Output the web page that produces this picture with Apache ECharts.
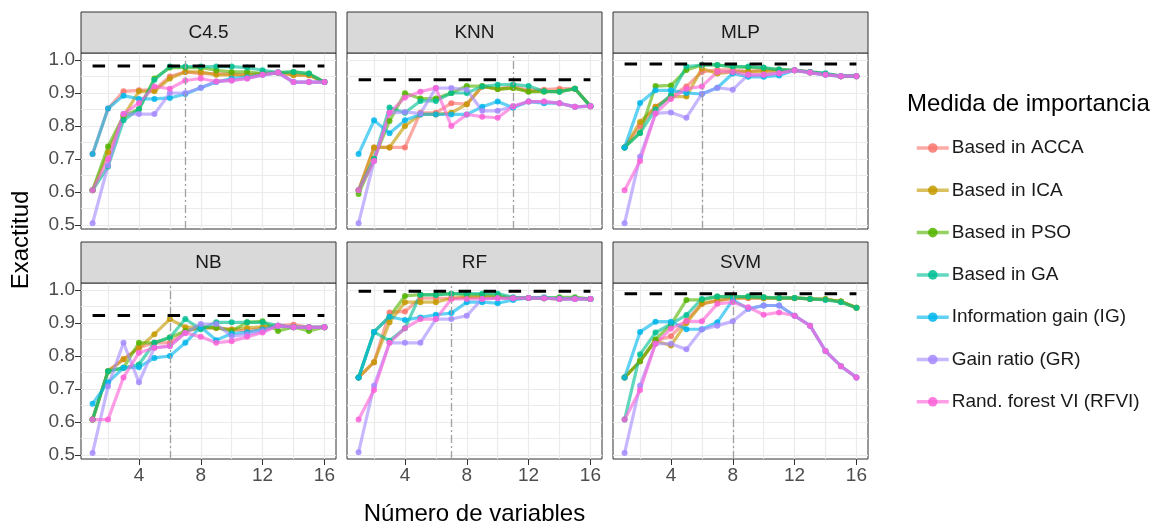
<!DOCTYPE html>
<html><head><meta charset="utf-8">
<script src="https://cdn.jsdelivr.net/npm/echarts@6/dist/echarts.min.js"></script>
<style>html,body{margin:0;padding:0;background:#fff}#c{width:1159px;height:527px}</style>
</head><body><div id="c"></div>
<script>
const panelNames = ['C4.5', 'KNN', 'MLP', 'NB', 'RF', 'SVM'];
const methods = ['Based in ACCA', 'Based in ICA', 'Based in PSO', 'Based in GA', 'Information gain (IG)', 'Gain ratio (GR)', 'Rand. forest VI (RFVI)'];
const colors = ['#F8766D', '#C49A00', '#53B400', '#00C094', '#00B6EB', '#A58AFF', '#FB61D7'];
const xValues = [1, 2, 3, 4, 5, 6, 7, 8, 9, 10, 11, 12, 13, 14, 15, 16];
const xTicks = [4, 8, 12, 16];
const xGrid = [2, 4, 6, 8, 10, 12, 14, 16];
const yTicks = [0.5, 0.6, 0.7, 0.8, 0.9, 1.0];
const yGrid = [0.5, 0.55, 0.6, 0.65, 0.7, 0.75, 0.8, 0.85, 0.9, 0.95, 1.0];
const refAccuracy = [0.982, 0.94, 0.988, 0.923, 0.996, 0.989];
const optimalVars = [7, 11, 6, 6, 7, 8];

// rows follow methods order: ACCA, ICA, PSO, GA, IG, GR, RFVI
const C45 = [
  [0.715, 0.853, 0.905, 0.908, 0.91, 0.95, 0.964, 0.959, 0.959, 0.957, 0.955, 0.959, 0.962, 0.955, 0.954, 0.933],
  [0.605, 0.72, 0.83, 0.905, 0.905, 0.944, 0.964, 0.964, 0.955, 0.955, 0.954, 0.959, 0.962, 0.954, 0.954, 0.933],
  [0.605, 0.738, 0.83, 0.851, 0.944, 0.977, 0.977, 0.977, 0.969, 0.964, 0.964, 0.959, 0.962, 0.964, 0.959, 0.933],
  [0.605, 0.677, 0.817, 0.851, 0.94, 0.98, 0.98, 0.98, 0.98, 0.98, 0.977, 0.969, 0.962, 0.964, 0.959, 0.933],
  [0.715, 0.853, 0.892, 0.882, 0.882, 0.885, 0.897, 0.916, 0.933, 0.944, 0.948, 0.955, 0.962, 0.933, 0.933, 0.933],
  [0.505, 0.68, 0.836, 0.836, 0.836, 0.9, 0.9, 0.916, 0.935, 0.938, 0.944, 0.955, 0.962, 0.933, 0.933, 0.933],
  [0.605, 0.70, 0.836, 0.87, 0.92, 0.913, 0.938, 0.944, 0.935, 0.938, 0.944, 0.955, 0.962, 0.933, 0.933, 0.933]
];
const KNN = [
  [0.605, 0.735, 0.735, 0.735, 0.84, 0.84, 0.869, 0.866, 0.92, 0.912, 0.92, 0.908, 0.91, 0.913, 0.913, 0.86],
  [0.605, 0.735, 0.735, 0.80, 0.835, 0.835, 0.84, 0.866, 0.92, 0.912, 0.915, 0.905, 0.905, 0.905, 0.913, 0.86],
  [0.594, 0.70, 0.815, 0.899, 0.883, 0.883, 0.9, 0.921, 0.921, 0.912, 0.915, 0.904, 0.904, 0.904, 0.913, 0.86],
  [0.605, 0.70, 0.856, 0.84, 0.876, 0.876, 0.9, 0.9, 0.92, 0.925, 0.926, 0.921, 0.905, 0.904, 0.913, 0.86],
  [0.715, 0.817, 0.778, 0.817, 0.835, 0.835, 0.835, 0.835, 0.858, 0.874, 0.855, 0.874, 0.869, 0.869, 0.858, 0.86],
  [0.505, 0.694, 0.84, 0.842, 0.838, 0.915, 0.915, 0.91, 0.846, 0.846, 0.86, 0.874, 0.874, 0.869, 0.858, 0.86],
  [0.605, 0.694, 0.84, 0.886, 0.904, 0.915, 0.8, 0.835, 0.828, 0.825, 0.86, 0.874, 0.874, 0.869, 0.858, 0.86]
];
const MLP = [
  [0.735, 0.80, 0.858, 0.889, 0.92, 0.964, 0.97, 0.97, 0.965, 0.97, 0.969, 0.969, 0.964, 0.957, 0.951, 0.951],
  [0.735, 0.812, 0.858, 0.889, 0.889, 0.974, 0.959, 0.964, 0.965, 0.965, 0.965, 0.969, 0.962, 0.957, 0.951, 0.951],
  [0.735, 0.779, 0.921, 0.923, 0.97, 0.985, 0.985, 0.98, 0.978, 0.975, 0.971, 0.969, 0.964, 0.957, 0.951, 0.951],
  [0.735, 0.779, 0.85, 0.895, 0.98, 0.985, 0.985, 0.98, 0.98, 0.977, 0.971, 0.969, 0.964, 0.96, 0.951, 0.951],
  [0.735, 0.87, 0.908, 0.908, 0.9, 0.897, 0.916, 0.959, 0.949, 0.949, 0.953, 0.969, 0.962, 0.955, 0.951, 0.951],
  [0.505, 0.707, 0.838, 0.841, 0.825, 0.897, 0.916, 0.91, 0.955, 0.955, 0.96, 0.969, 0.962, 0.955, 0.951, 0.951],
  [0.605, 0.694, 0.838, 0.882, 0.913, 0.92, 0.964, 0.964, 0.955, 0.955, 0.96, 0.969, 0.962, 0.955, 0.951, 0.951]
];
const NB = [
  [0.607, 0.754, 0.79, 0.825, 0.84, 0.84, 0.875, 0.885, 0.885, 0.88, 0.876, 0.885, 0.892, 0.895, 0.887, 0.887],
  [0.607, 0.754, 0.79, 0.825, 0.866, 0.912, 0.887, 0.888, 0.885, 0.88, 0.885, 0.888, 0.892, 0.887, 0.887, 0.887],
  [0.607, 0.754, 0.764, 0.84, 0.84, 0.856, 0.876, 0.886, 0.886, 0.876, 0.902, 0.905, 0.876, 0.887, 0.876, 0.887],
  [0.607, 0.754, 0.764, 0.774, 0.84, 0.856, 0.912, 0.881, 0.902, 0.902, 0.902, 0.902, 0.892, 0.887, 0.887, 0.887],
  [0.655, 0.72, 0.764, 0.766, 0.794, 0.8, 0.84, 0.888, 0.848, 0.868, 0.872, 0.88, 0.892, 0.887, 0.887, 0.887],
  [0.506, 0.708, 0.84, 0.72, 0.825, 0.83, 0.87, 0.897, 0.897, 0.86, 0.865, 0.875, 0.892, 0.887, 0.887, 0.887],
  [0.607, 0.607, 0.735, 0.81, 0.825, 0.83, 0.87, 0.858, 0.84, 0.845, 0.858, 0.871, 0.892, 0.887, 0.887, 0.887]
];
const RF = [
  [0.735, 0.781, 0.932, 0.935, 0.975, 0.975, 0.975, 0.978, 0.98, 0.978, 0.975, 0.976, 0.975, 0.973, 0.973, 0.973],
  [0.735, 0.781, 0.902, 0.963, 0.963, 0.963, 0.975, 0.978, 0.978, 0.978, 0.975, 0.976, 0.975, 0.973, 0.975, 0.973],
  [0.735, 0.873, 0.919, 0.982, 0.986, 0.986, 0.989, 0.986, 0.986, 0.984, 0.975, 0.976, 0.975, 0.978, 0.978, 0.973],
  [0.735, 0.873, 0.846, 0.884, 0.986, 0.985, 0.989, 0.989, 0.989, 0.989, 0.978, 0.976, 0.978, 0.975, 0.975, 0.973],
  [0.735, 0.873, 0.919, 0.909, 0.917, 0.925, 0.93, 0.963, 0.963, 0.96, 0.97, 0.976, 0.975, 0.973, 0.973, 0.973],
  [0.508, 0.71, 0.84, 0.84, 0.84, 0.912, 0.912, 0.922, 0.973, 0.975, 0.975, 0.976, 0.975, 0.973, 0.973, 0.973],
  [0.607, 0.697, 0.84, 0.884, 0.912, 0.912, 0.973, 0.973, 0.973, 0.975, 0.975, 0.976, 0.975, 0.973, 0.973, 0.973]
];
const SVM = [
  [0.735, 0.784, 0.846, 0.86, 0.907, 0.958, 0.968, 0.975, 0.975, 0.975, 0.975, 0.975, 0.973, 0.972, 0.965, 0.946],
  [0.735, 0.784, 0.846, 0.832, 0.9, 0.958, 0.968, 0.975, 0.977, 0.975, 0.975, 0.976, 0.973, 0.972, 0.965, 0.946],
  [0.735, 0.784, 0.85, 0.895, 0.97, 0.97, 0.98, 0.98, 0.98, 0.978, 0.976, 0.976, 0.973, 0.972, 0.965, 0.946],
  [0.607, 0.805, 0.871, 0.897, 0.924, 0.973, 0.98, 0.98, 0.98, 0.978, 0.976, 0.976, 0.973, 0.97, 0.963, 0.946],
  [0.735, 0.873, 0.904, 0.904, 0.881, 0.881, 0.902, 0.97, 0.943, 0.953, 0.953, 0.922, 0.892, 0.815, 0.769, 0.735],
  [0.506, 0.71, 0.837, 0.837, 0.82, 0.88, 0.892, 0.905, 0.943, 0.953, 0.953, 0.922, 0.892, 0.815, 0.769, 0.735],
  [0.607, 0.697, 0.837, 0.883, 0.905, 0.905, 0.958, 0.963, 0.948, 0.925, 0.932, 0.922, 0.892, 0.815, 0.769, 0.735]
];
const panelData = [C45, KNN, MLP, NB, RF, SVM];

const FONT = '"Liberation Sans", Arial, sans-serif';
const colLeft = [81, 347, 613];
const rowTop = [53, 283];
const stripTop = [12, 242];
const PW = 255, PH = 176, SH = 41;
const yMin = 0.4875, yMax = 1.0213, xMin = 0.25, xMax = 16.75;

const grids = [], xAxes = [], yAxes = [], series = [], graphics = [];
panelNames.forEach((name, p) => {
  const col = p % 3, row = Math.floor(p / 3);
  grids.push({left: colLeft[col], top: rowTop[row], width: PW, height: PH, show: true,
    backgroundColor: '#fff', borderColor: '#333', borderWidth: 1, containLabel: false, outerBoundsMode: 'none'});
  xAxes.push({gridIndex: p, type: 'value', min: xMin, max: xMax, position: 'top',
    axisLine: {show: false}, axisTick: {show: false, customValues: xGrid}, axisLabel: {show: false},
    splitLine: {show: true, lineStyle: {color: '#EBEBEB', width: 1.2}}});
  xAxes.push({gridIndex: p, type: 'value', min: xMin, max: xMax, position: 'bottom',
    axisLine: {show: false, onZero: false},
    axisTick: {show: row === 1, customValues: xTicks, length: 6, lineStyle: {color: '#333', width: 1}},
    axisLabel: {show: row === 1, customValues: xTicks, color: '#4D4D4D', fontSize: 19, fontFamily: FONT, margin: 7},
    splitLine: {show: false}});
  yAxes.push({gridIndex: p, type: 'value', min: yMin, max: yMax, position: 'right',
    axisLine: {show: false}, axisTick: {show: false, customValues: yGrid}, axisLabel: {show: false},
    splitLine: {show: true, lineStyle: {color: '#EBEBEB', width: 1.2}}});
  yAxes.push({gridIndex: p, type: 'value', min: yMin, max: yMax, position: 'left',
    axisLine: {show: false, onZero: false},
    axisTick: {show: col === 0, customValues: yTicks, length: 6, lineStyle: {color: '#333', width: 1}},
    axisLabel: {show: col === 0, customValues: yTicks, color: '#4D4D4D', fontSize: 19, fontFamily: FONT, margin: 6,
      formatter: v => Number(v).toFixed(1)},
    splitLine: {show: false}});
  const xi = 2 * p + 1, yi = 2 * p + 1;
  // optimal number of variables (vertical dash-dot) and reference accuracy (horizontal dashed)
  series.push({type: 'line', name: 'ref' + p, xAxisIndex: xi, yAxisIndex: yi, z: 1, silent: true,
    data: [[xValues[0], refAccuracy[p]], [xValues[xValues.length - 1], refAccuracy[p]]],
    symbol: 'none', lineStyle: {opacity: 0},
    markLine: {silent: true, symbol: ['none', 'none'], label: {show: false}, animation: false,
      lineStyle: {color: '#A0A0A0', width: 1.3, type: [8, 3, 2, 3]},
      data: [{xAxis: optimalVars[p]}]}});
  panelData[p].forEach((vals, m) => {
    series.push({type: 'line', name: methods[m], xAxisIndex: xi, yAxisIndex: yi, z: 3,
      data: xValues.map((x, k) => [x, vals[k]]),
      symbol: 'circle', symbolSize: 6, showSymbol: true,
      lineStyle: {color: colors[m], width: 3.2, opacity: 0.62},
      itemStyle: {color: colors[m], opacity: 0.85},
      emphasis: {disabled: true}});
  });
  series.push({type: 'line', name: 'refline' + p, xAxisIndex: xi, yAxisIndex: yi, z: 5, silent: true,
    data: [[xValues[0], refAccuracy[p]], [xValues[xValues.length - 1], refAccuracy[p]]],
    symbol: 'none', lineStyle: {color: '#000', width: 3, type: [12.5, 12.5]}});
  graphics.push({type: 'rect', shape: {x: colLeft[col], y: stripTop[row], width: PW, height: SH},
    style: {fill: '#D9D9D9', stroke: '#333', lineWidth: 1}, z: 10});
  graphics.push({type: 'text', x: colLeft[col] + PW / 2, y: stripTop[row] + SH / 2, z: 11,
    style: {text: name, fill: '#1A1A1A', fontSize: 19, fontFamily: FONT,
      align: 'center', verticalAlign: 'middle', textAlign: 'center', textVerticalAlign: 'middle'}});
});

graphics.push({type: 'text', x: 21, y: 240, rotation: Math.PI / 2, z: 11,
  style: {text: 'Exactitud', fill: '#000', fontSize: 24, fontFamily: FONT,
    align: 'center', verticalAlign: 'middle', textAlign: 'center', textVerticalAlign: 'middle'}});
graphics.push({type: 'text', x: 474.5, y: 514, z: 11,
  style: {text: 'Número de variables', fill: '#000', fontSize: 24, fontFamily: FONT,
    align: 'center', verticalAlign: 'middle', textAlign: 'center', textVerticalAlign: 'middle'}});
graphics.push({type: 'text', x: 907, y: 104, z: 11,
  style: {text: 'Medida de importancia', fill: '#000', fontSize: 24, fontFamily: FONT,
    align: 'left', verticalAlign: 'middle', textAlign: 'left', textVerticalAlign: 'middle'}});

const chart = echarts.init(document.getElementById('c'), null, {renderer: 'canvas'});
chart.setOption({
  animation: false,
  backgroundColor: '#fff',
  grid: grids, xAxis: xAxes, yAxis: yAxes, series: series,
  legend: {data: methods, orient: 'vertical', left: 910, top: 133, itemWidth: 32, itemHeight: 12,
    itemGap: 22.3, selectedMode: false, itemStyle: {opacity: 0.85}, lineStyle: {width: 3.5},
    textStyle: {fontSize: 19, color: '#1A1A1A', fontFamily: FONT, lineHeight: 20, padding: [0, 0, 0, -2]}},
  graphic: graphics
});
</script></body></html>
